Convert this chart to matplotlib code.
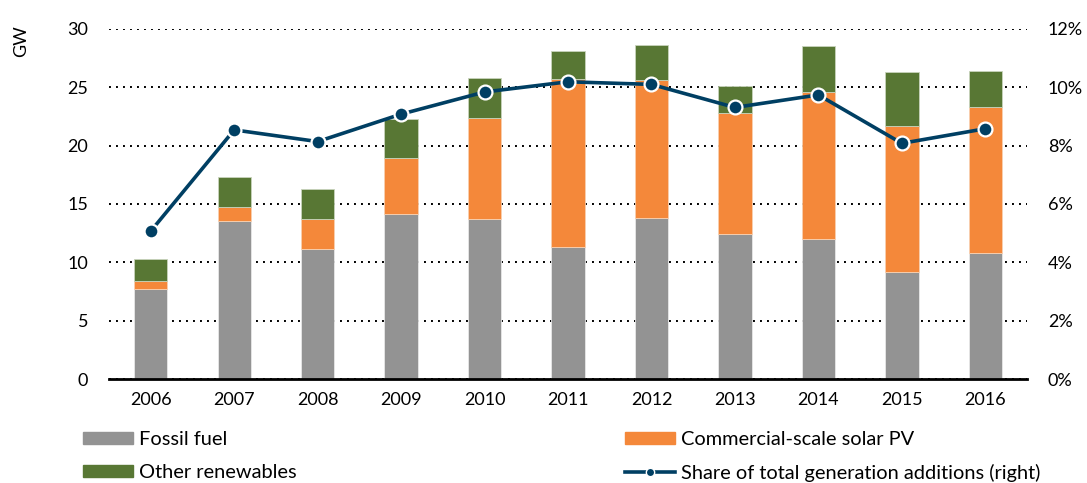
import numpy as np
import matplotlib.pyplot as plt
from matplotlib.patches import Patch
from matplotlib.lines import Line2D
from matplotlib.ticker import PercentFormatter

plt.rcParams['font.family'] = ['Lato', 'DejaVu Sans']

years = ['2006', '2007', '2008', '2009', '2010', '2011', '2012', '2013', '2014', '2015', '2016']
fossil = [7.7, 13.5, 11.1, 14.1, 13.7, 11.3, 13.8, 12.4, 12.0, 9.2, 10.8]
solar = [0.7, 1.2, 2.6, 4.8, 8.7, 14.4, 11.8, 10.4, 12.6, 12.5, 12.5]
other = [1.9, 2.6, 2.6, 3.4, 3.4, 2.4, 3.0, 2.3, 3.9, 4.6, 3.1]
share = [5.07, 8.54, 8.14, 9.08, 9.84, 10.19, 10.10, 9.31, 9.74, 8.08, 8.58]

c_fossil = '#939393'
c_solar = '#f4883a'
c_other = '#587734'
c_line = '#003f63'

x = np.arange(len(years))
fossil = np.array(fossil)
solar = np.array(solar)
other = np.array(other)

fig = plt.figure(figsize=(10.87, 4.83), dpi=100)
ax = fig.add_axes([0.1003, 0.2153, 0.8445, 0.7247])

w = 0.4
ax.bar(x, fossil, w, color=c_fossil, edgecolor='#e8e8e8', linewidth=0.6)
ax.bar(x, solar, w, bottom=fossil, color=c_solar, edgecolor='#f8d0b0', linewidth=0.6)
ax.bar(x, other, w, bottom=fossil + solar, color=c_other, edgecolor='#c8d4bc', linewidth=0.6)

ax.set_xlim(-0.5, 10.5)
ax.set_ylim(0, 30)
ax.set_yticks(range(0, 31, 5))
ax.set_xticks(x)
ax.set_xticklabels(years)
ax.set_axisbelow(True)
ax.yaxis.grid(True, color='black', linestyle=(0, (1, 2.6)), linewidth=1.4)
for s in ['top', 'left', 'right']:
    ax.spines[s].set_visible(False)
ax.spines['bottom'].set_linewidth(2)
ax.tick_params(axis='both', length=0, labelsize=13, colors='black')
ax.tick_params(axis='y', pad=15)
ax.tick_params(axis='x', pad=9)

ax2 = ax.twinx()
ax2.plot(x, share, color=c_line, linewidth=2.6, marker='o', markersize=10,
         markerfacecolor=c_line, markeredgecolor='white', markeredgewidth=1.6)
ax2.set_ylim(0, 12)
ax2.set_yticks(range(0, 13, 2))
ax2.yaxis.set_major_formatter(PercentFormatter(decimals=0))
for s in ['top', 'left', 'right', 'bottom']:
    ax2.spines[s].set_visible(False)
ax2.tick_params(axis='y', length=0, labelsize=13, pad=15)

fig.text(0.019, 0.915, 'GW', rotation=90, fontsize=13, ha='center', va='center')

leg_kw = dict(loc='upper left', frameon=False, fontsize=14.4, handlelength=2.5,
              handleheight=0.55, handletextpad=0.3, labelspacing=0.8,
              borderpad=0, borderaxespad=0)
fig.legend(handles=[Patch(color=c_fossil, label='Fossil fuel'),
                    Patch(color=c_other, label='Other renewables')],
           bbox_to_anchor=(0.0764, 0.108), **leg_kw)
fig.legend(handles=[Patch(color=c_solar, label='Commercial-scale solar PV'),
                    Line2D([0], [0], color=c_line, linewidth=2.6, marker='o',
                           markersize=6, markeredgecolor='white',
                           label='Share of total generation additions (right)')],
           bbox_to_anchor=(0.575, 0.108), **leg_kw)

fig.savefig('out.png', dpi=100)
